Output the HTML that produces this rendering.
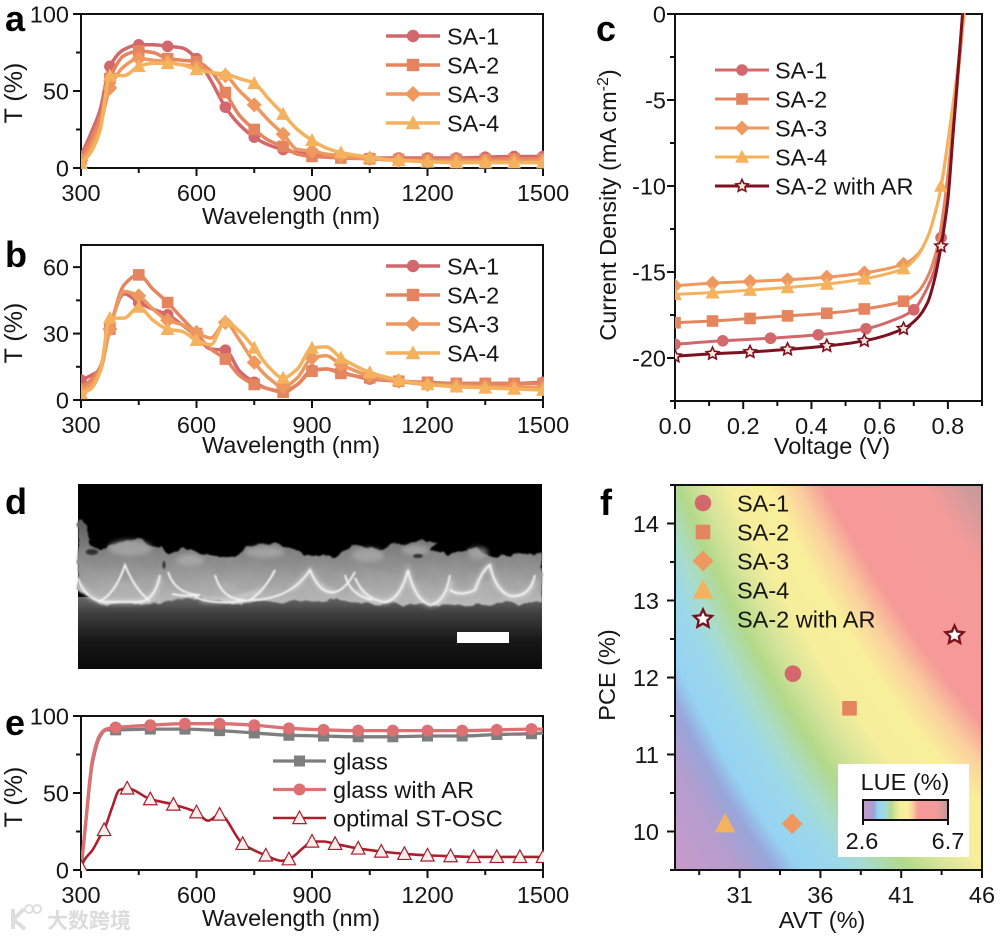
<!DOCTYPE html>
<html lang="en">
<head>
<meta charset="utf-8">
<title>Transmittance and device performance figure</title>
<style>
html,body{margin:0;padding:0;background:#fff;width:1000px;height:938px;overflow:hidden}
#stage{position:relative;width:1000px;height:938px}
#lue-canvas{position:absolute;left:675px;top:485px;width:307px;height:385px}
#figure{position:absolute;left:0;top:0}
text{font-family:"Liberation Sans","Noto Sans CJK SC",sans-serif;font-size:23.5px;fill:#161616}
.letter{font-size:36px;font-weight:bold;fill:#000}
</style>
</head>
<body>
<div id="stage">
<canvas id="lue-canvas" width="307" height="385"></canvas>
<svg id="figure" width="1000" height="938" viewBox="0 0 1000 938" xmlns="http://www.w3.org/2000/svg">
  <defs>
    <linearGradient id="sem-sub" x1="0" y1="0" x2="0" y2="1">
      <stop offset="0" stop-color="#686868"/><stop offset="0.22" stop-color="#404040"/><stop offset="0.6" stop-color="#181818"/><stop offset="1" stop-color="#0a0a0a"/>
    </linearGradient>
    <linearGradient id="sem-film" x1="0" y1="0" x2="0" y2="1">
      <stop offset="0" stop-color="#5c5c5c"/><stop offset="0.35" stop-color="#7e7e7e"/><stop offset="0.7" stop-color="#a0a0a0"/><stop offset="1" stop-color="#bcbcbc"/>
    </linearGradient>
    <filter id="rough" x="-5%" y="-30%" width="110%" height="160%">
      <feTurbulence type="fractalNoise" baseFrequency="0.07" numOctaves="3" seed="4" result="n"/>
      <feDisplacementMap in="SourceGraphic" in2="n" scale="9" xChannelSelector="R" yChannelSelector="G"/>
      <feGaussianBlur stdDeviation="0.9"/>
    </filter>
    <filter id="soft" x="-5%" y="-20%" width="110%" height="140%"><feGaussianBlur stdDeviation="0.9"/></filter>
    <filter id="softer" x="-5%" y="-20%" width="110%" height="140%"><feGaussianBlur stdDeviation="2.5"/></filter>
    <linearGradient id="colorbar-gradient" x1="0" y1="0" x2="1" y2="0"></linearGradient>
  </defs>

  <g>
    <rect x="78" y="484" width="464" height="185" fill="#000"/>
    <rect x="78" y="597" width="464" height="72" fill="url(#sem-sub)"/>
    <path filter="url(#rough)" fill="url(#sem-film)"
      d="M78 518L86 525L90 542L100 550L120 541L138 538L160 548L167 555L185 547L200 553L233 558L247 545L265 543L291 548L302 555L338 556L353 545L378 550L400 543L436 541L429 550L447 555L476 545L491 557L542 553L542 602L500 604L470 606L420 603L380 604L330 600L280 602L230 603L190 597L150 604L100 604L78 590Z"/>
    <g filter="url(#softer)" fill="#b2b2b2" opacity="0.65">
      <ellipse cx="130" cy="548" rx="22" ry="8"/><ellipse cx="190" cy="560" rx="14" ry="6"/><ellipse cx="265" cy="552" rx="20" ry="6"/>
      <ellipse cx="368" cy="555" rx="16" ry="7"/><ellipse cx="415" cy="550" rx="14" ry="5"/><ellipse cx="478" cy="553" rx="10" ry="6"/>
      <ellipse cx="125" cy="590" rx="16" ry="9"/><ellipse cx="310" cy="590" rx="14" ry="9"/><ellipse cx="410" cy="592" rx="12" ry="9"/>
      <ellipse cx="490" cy="588" rx="10" ry="8"/><ellipse cx="225" cy="590" rx="12" ry="7"/>
    </g>
    <g filter="url(#softer)" fill="none" stroke="#e8e8e8" stroke-width="4" opacity="0.6">
      <path d="M80 585Q88 600 105 602L140 602Q155 600 160 578"/>
      <path d="M200 600Q230 604 262 590M290 590Q300 585 310 570Q320 592 335 592"/>
      <path d="M358 590Q368 600 385 602Q400 600 408 572Q415 600 430 605Q445 603 452 580"/>
      <path d="M450 590Q460 597 475 590Q482 570 490 565Q495 590 510 596Q530 598 535 580"/>
    </g>
    <g filter="url(#soft)" fill="none" stroke="#f2f2f2" stroke-width="2">
      <path d="M78 578Q85 600 105 602L140 602Q155 600 160 575"/>
      <path d="M98 602Q115 595 125 565Q135 590 150 601"/>
      <path d="M168 572Q175 594 200 595Q188 597 172 594"/>
      <path d="M195 597Q215 606 250 600Q265 590 275 570"/>
      <path d="M215 575Q222 600 245 600"/>
      <path d="M250 600Q290 600 310 570Q320 595 335 592Q345 590 355 572"/>
      <path d="M355 578Q365 600 385 602Q400 600 408 570Q415 600 430 605Q445 603 450 575"/>
      <path d="M450 590Q460 597 475 590Q482 570 490 565Q495 590 510 596Q530 598 535 575"/>
      <path d="M345 575Q350 595 372 600"/>
    </g>
    <g filter="url(#soft)" fill="#111" opacity="0.7">
      <ellipse cx="92" cy="552" rx="6" ry="3"/><ellipse cx="164" cy="565" rx="1.5" ry="4"/><ellipse cx="418" cy="556" rx="5" ry="2"/>
    </g>
    <rect x="457" y="632" width="52" height="11" fill="#fff"/>
  </g>

  <g id="layer"></g>

  <text class="letter" x="5" y="31">a</text>
  <text class="letter" x="5" y="267">b</text>
  <text class="letter" x="596" y="41">c</text>
  <text class="letter" x="5" y="514">d</text>
  <text class="letter" x="5" y="735">e</text>
  <text class="letter" x="600" y="515">f</text>

  <text x="291" y="224" text-anchor="middle">Wavelength (nm)</text>
  <text x="291" y="453" text-anchor="middle">Wavelength (nm)</text>
  <text x="291" y="926" text-anchor="middle">Wavelength (nm)</text>
  <text x="832" y="454" text-anchor="middle">Voltage (V)</text>
  <text x="822" y="928" text-anchor="middle">AVT (%)</text>
  <text transform="translate(22,93) rotate(-90)" text-anchor="middle" style="font-size:25px">T (%)</text>
  <text transform="translate(22,333) rotate(-90)" text-anchor="middle" style="font-size:25px">T (%)</text>
  <text transform="translate(22,797) rotate(-90)" text-anchor="middle" style="font-size:25px">T (%)</text>
  <text transform="translate(616,205) rotate(-90)" text-anchor="middle">Current Density (mA cm<tspan dy="-8" font-size="16">-2</tspan><tspan dy="8">)</tspan></text>
  <text transform="translate(615,675) rotate(-90)" text-anchor="middle">PCE (%)</text>

  <g>
    <rect x="838" y="764" width="131" height="93" fill="#fff"/>
    <text x="905" y="790" text-anchor="middle">LUE (%)</text>
    <rect x="863" y="800" width="85" height="20" fill="url(#colorbar-gradient)" stroke="#111" stroke-width="2"/>
    <path d="M863 820V825M948 820V825" stroke="#111" stroke-width="2"/>
    <text x="862" y="849" text-anchor="middle">2.6</text>
    <text x="948" y="849" text-anchor="middle">6.7</text>
  </g>

  <g opacity="0.8">
    <path d="M13 909V929M13 920L24 909M14 920L25 929" fill="none" stroke="#d6d6d6" stroke-width="4"/>
    <circle cx="29" cy="909" r="4" fill="none" stroke="#d6d6d6" stroke-width="2"/>
    <circle cx="37" cy="909" r="4" fill="none" stroke="#d6d6d6" stroke-width="2"/>
    <text x="47" y="928" style="font-size:21px;font-weight:bold;fill:#d4d4d4">大数跨境</text>
  </g>
</svg>
</div>
<script>
// ---------- data: panel a ----------
const waveGrid = [300,325,350,375,412,450,487,525,562,600,637,675,712,750,787,825,862,900,937,975,1050,1125,1200,1275,1350,1425,1500];
const every75 = [300,375,450,525,600,675,750,825,900,975,1050,1125,1200,1275,1350,1425,1500];
const a1 = [8,22,38,66,77,80,80,79,78,71,57,39.5,28,20,15,12,10,9,8,7,6.5,6.5,6.5,6.5,7,7.5,7.5];
const a2 = [6,18,33,58,73,76,75,71,70,69,63,49,34,25,18,14,9,7.5,7,6.5,6,5.5,5.5,5.5,5.5,6,6];
const a3 = [5,13,28,52,66,71,70,69,67,66,62,60,50,41,31,22,12,11,9,8,6,5,4.5,4.5,4.5,4.5,4.5];
const a4 = [3,10,25,60,60,66,68,68,67,64,62,61,58,55,45,35,25,18,13,10,7,5,4,3.5,3.5,3.5,3.5];
// ---------- data: panel b ----------
const b1 = [9,11,14,33,48,44,41,38.5,34,29,23,22.5,13,8,5,4,7,13.5,14,12.5,9.5,8.5,7.5,7.5,7.5,7.5,8];
const b2 = [5,9,15,32,52,56.5,50,44,37,30,23,18.5,11,7,5,3.5,7,13,14,12,10,8.5,8,7.5,7.5,7.5,7.5];
const b3 = [4,7,13,32,49,47,41,36,34,30.5,28,35,27,17,10,6,10,19,20,16,11,8.5,7,6.5,6,6,5.5];
const b4 = [3,5,13,37,37,42,36,32,31,27,25,35.5,31,23.5,15,10,14,23.5,24,19,12.5,9,7,6,5.5,5,4.5];
// ---------- data: panel c ----------
const c1V = [0,.14,.28,.42,.56,.64,.70,.73,.76,.78,.80,.815,.825,.835,.845];
const c1J = [-19.2,-19,-18.85,-18.65,-18.3,-17.8,-17.2,-16.3,-14.9,-13,-10.5,-7,-4.7,-2.2,.5];
const c2V = [0,.11,.22,.33,.445,.555,.67,.71,.74,.77,.79,.81,.825,.84,.85];
const c2J = [-17.95,-17.85,-17.7,-17.55,-17.4,-17.15,-16.7,-16.2,-15.3,-13.5,-11,-7.5,-4.5,-1.5,.5];
const c3V = [0,.11,.22,.33,.445,.555,.67,.71,.74,.77,.785,.81,.83,.85];
const c3J = [-15.8,-15.65,-15.55,-15.45,-15.3,-15.05,-14.55,-14,-13,-11,-9.5,-6,-3,.5];
const c4V = [0,.11,.22,.33,.445,.555,.67,.71,.74,.77,.78,.81,.83,.85];
const c4J = [-16.3,-16.2,-16.05,-15.9,-15.7,-15.4,-14.8,-14.1,-13,-11,-10,-6,-3,.5];
const c5V = [0,.11,.22,.33,.445,.555,.67,.71,.74,.76,.78,.80,.815,.825,.835,.845];
const c5J = [-19.9,-19.75,-19.65,-19.5,-19.3,-19,-18.3,-17.7,-16.8,-15.5,-13.5,-10.8,-7,-4.5,-2,.5];
const c1Marks = [0,.14,.28,.42,.56,.70,.78];
const cShortMarks = [0,.11,.22,.33,.445,.555,.67];
const cMarks = [0,.11,.22,.33,.445,.555,.67,.78];
// ---------- data: panel e ----------
const eGlassW = [300,310,330,350,365,390,480,570,660,750,840,930,1020,1110,1200,1290,1380,1470,1500];
const eGlassT = [0,25,70,87,91,91,91.5,91.5,90.5,89,87.5,87,86.5,86.5,87,87,88,88.5,89];
const eArT = [0,25,72,88,91.5,92.5,94,95,95,94,92,91,90.5,90.5,90.5,90.5,91,91.5,91.5];
const eGlassMarks = [390,480,570,660,750,840,930,1020,1110,1200,1290,1380,1470];
const eStW = [300,310,330,350,360,380,400,420,480,540,600,630,660,720,780,820,840,880,900,930,960,1020,1080,1140,1200,1260,1320,1380,1440,1500];
const eStT = [2,7,13,22,26,40,52,53,46,42.5,37.5,32,36,17,9.5,6,7,15,18.5,18.5,17,14,12,10.5,9.5,9,8.5,8.5,8.5,8.5];
const eStMarks = [300,360,420,480,540,600,660,720,780,840,900,960,1020,1080,1140,1200,1260,1320,1380,1440,1500];
// ---------- data: panel f ----------
const fAvt = [34.3,37.8,34.25,30.1,44.3];
const fPce = [12.05,11.6,10.1,10.1,12.55];
const lueLevels = [2.6,2.95,3.15,3.3,3.55,3.72,3.95,4.15,4.4,4.75,5.0,5.25,6.15,6.7];
const lueColors = ['#c79bc9','#b49dcf','#98a6da','#96d3f3','#9bd8ea','#a9dccd','#b3d98a','#d5e49a','#f6ee9b','#f9ef9b','#fbcf9e','#f59a98','#f49b9a','#bd9b9b'];
// ---------- tick labels ----------
const waveTicks = [300,600,900,1200,1500];
const waveMinor = [450,750,1050,1350];
const pctTicks = [0,50,100];
const pctMinor = [25,75];
const bTicks = [0,30,60];
const bMinor = [15,45];
const voltTicks = ['0.0','0.2','0.4','0.6','0.8'];
const voltMinor = [.1,.3,.5,.7,.9];
const jTicks = [0,-5,-10,-15,-20];
const jMinor = [-2.5,-7.5,-12.5,-17.5,-22.5];
const avtTicks = [31,36,41,46];
const avtMinor = [28.5,33.5,38.5,43.5];
const pceTicks = [10,11,12,13,14];
const pceMinor = [9.5,10.5,11.5,12.5,13.5,14.5];
const saNames = ['SA-1','SA-2','SA-3','SA-4','SA-2 with AR'];
const eNames = ['glass','glass with AR','optimal ST-OSC'];

// ---------- colours ----------
const COL = ['#d2686b','#e5855f','#ee985f','#f4b25f','#7c1220'];
const NS = 'http://www.w3.org/2000/svg';
const layer = document.getElementById('layer');
const SHAPES = ['circle','square','diamond','triangle','star'];

function el(tag, parent, props){
  const e = document.createElementNS(NS, tag);
  for(const k in props) e.setAttribute(k, props[k]);
  parent.appendChild(e);
  return e;
}
function scales(p){
  return {
    x: v => p.l + (v - p.xMin) / (p.xMax - p.xMin) * (p.r - p.l),
    y: v => p.b - (v - p.yMin) / (p.yMax - p.yMin) * (p.b - p.t)
  };
}
// monotone cubic path through the points
function curve(xs, ys){
  const n = xs.length, d = [], m = [];
  for(let i = 0; i < n - 1; i++) d[i] = (ys[i+1] - ys[i]) / (xs[i+1] - xs[i]);
  m[0] = d[0]; m[n-1] = d[n-2];
  for(let i = 1; i < n - 1; i++){
    m[i] = d[i-1] * d[i] <= 0 ? 0 : 2 * d[i-1] * d[i] / (d[i-1] + d[i]);
  }
  let s = 'M' + xs[0].toFixed(2) + ' ' + ys[0].toFixed(2);
  for(let i = 0; i < n - 1; i++){
    const h = (xs[i+1] - xs[i]) / 3;
    s += 'C' + (xs[i] + h).toFixed(2) + ' ' + (ys[i] + m[i] * h).toFixed(2) + ' ' +
         (xs[i+1] - h).toFixed(2) + ' ' + (ys[i+1] - m[i+1] * h).toFixed(2) + ' ' +
         xs[i+1].toFixed(2) + ' ' + ys[i+1].toFixed(2);
  }
  return s;
}
function lerp(xs, ys, v){
  for(let i = 0; i < xs.length - 1; i++){
    if(v >= xs[i] && v <= xs[i+1]) return ys[i] + (ys[i+1] - ys[i]) * (v - xs[i]) / (xs[i+1] - xs[i]);
  }
  return ys[ys.length - 1];
}
function marker(parent, shape, cx, cy, s, fill, stroke, sw){
  let m;
  const st = {fill: fill, stroke: stroke || 'none', 'stroke-width': sw || 0};
  if(shape === 'circle'){
    m = el('circle', parent, Object.assign({cx: cx, cy: cy, r: s}, st));
  } else if(shape === 'square'){
    m = el('rect', parent, Object.assign({x: cx - s, y: cy - s, width: 2 * s, height: 2 * s}, st));
  } else {
    let pts = [];
    if(shape === 'diamond') pts = [[0,-1.3*s],[1.3*s,0],[0,1.3*s],[-1.3*s,0]];
    if(shape === 'triangle') pts = [[0,-1.25*s],[1.2*s,s],[-1.2*s,s]];
    if(shape === 'star'){
      for(let i = 0; i < 10; i++){
        const r = i % 2 ? s * 0.48 : s;
        const a = -Math.PI / 2 + i * Math.PI / 5;
        pts.push([r * Math.cos(a), r * Math.sin(a)]);
      }
    }
    m = el('polygon', parent, Object.assign({points: pts.map(q => (cx + q[0]).toFixed(2) + ',' + (cy + q[1]).toFixed(2)).join(' ')}, st));
  }
  return m;
}
function tickLine(parent, x1, y1, x2, y2, name){
  const t = el('line', parent, {x1: x1, y1: y1, x2: x2, y2: y2, stroke: '#111', 'stroke-width': 2});
  
  
}
function label(parent, x, y, txt, anchor, name){
  const t = el('text', parent, {x: x, y: y, 'text-anchor': anchor});
  t.textContent = txt;
  
  
}
function axes(id, p, xT, xTLab, xM, yT, yM, yLabelX){
  const s = scales(p);
  const g = el('g', layer, {});
  
  
  const frame = el('rect', g, {x: p.l, y: p.t, width: p.r - p.l, height: p.b - p.t, fill: 'none', stroke: '#111', 'stroke-width': 2});
  
  
  xT.forEach((v, i) => {
    tickLine(g, s.x(v), p.b, s.x(v), p.b + 8, id + '-x-tick');
    label(g, s.x(v), p.b + p.xLabOff, xTLab[i], 'middle', id + '-x-tick-label');
  });
  xM.forEach(v => tickLine(g, s.x(v), p.b, s.x(v), p.b + 5, id + '-x-minor-tick'));
  yT.forEach(v => {
    tickLine(g, p.l - 8, s.y(v), p.l, s.y(v), id + '-y-tick');
    label(g, yLabelX, s.y(v) + 8.5, String(v), 'end', id + '-y-tick-label');
  });
  yM.forEach(v => tickLine(g, p.l - 5, s.y(v), p.l, s.y(v), id + '-y-minor-tick'));
  return s;
}
let clipCount = 0;
function clipFor(p){
  clipCount++;
  const defs = document.querySelector('defs');
  const c = el('clipPath', defs, {id: 'clip' + clipCount});
  el('rect', c, {x: p.l, y: p.t - 1, width: p.r - p.l + 1, height: p.b - p.t + 2});
  return 'url(#clip' + clipCount + ')';
}
function series(id, name, s, clip, xs, ys, marks, o){
  const g = el('g', layer, {'clip-path': clip});
  
  
  const line = el('path', g, {d: curve(xs.map(s.x), ys.map(s.y)), fill: 'none', stroke: o.color, 'stroke-width': o.width, 'stroke-linejoin': 'round'});
  
  
  marks.forEach(v => {
    const m = marker(g, o.shape, s.x(v), s.y(lerp(xs, ys, v)), o.size, o.fill, o.stroke, o.sw);
    
    
  });
}
function legendRow(id, x0, x1, textX, y, name, o){
  const g = el('g', layer, {});
  
  
  const line = el('line', g, {x1: x0, x2: x1, y1: y, y2: y, stroke: o.color, 'stroke-width': o.width});
  
  
  const m = marker(g, o.shape, (x0 + x1) / 2, y, o.size, o.fill, o.stroke, o.sw);
  
  
  label(g, textX, y + 8.5, name, 'start', id + '-legend-label');
}
function saStyle(i, width, size){
  return {color: COL[i], fill: COL[i], shape: SHAPES[i], size: size, width: width};
}
function spectra(id, p, yT, yM, rows, legendY){
  const s = axes(id, p, waveTicks, waveTicks.map(String), waveMinor, yT, yM, 69);
  const clip = clipFor(p);
  rows.forEach((r, i) => series(id, saNames[i].toLowerCase(), s, clip, waveGrid, r, every75, saStyle(i, 3.5, 5.8)));
  rows.forEach((r, i) => legendRow(id, 386, 440, 447, legendY + i * 29, saNames[i], saStyle(i, 3.5, 6.2)));
}

// panel a
spectra('panel-a', {l:81,r:543,t:14,b:168,xMin:300,xMax:1500,yMin:0,yMax:100,xLabOff:33}, pctTicks, pctMinor, [a1,a2,a3,a4], 36);
// panel b
spectra('panel-b', {l:81,r:543,t:245,b:400,xMin:300,xMax:1500,yMin:0,yMax:70,xLabOff:33}, bTicks, bMinor, [b1,b2,b3,b4], 266);

// panel c
(function(){
  const p = {l:675,r:982,t:14,b:401,xMin:0,xMax:.9,yMin:-22.5,yMax:0,xLabOff:33};
  const s = axes('panel-c', p, voltTicks.map(Number), voltTicks, voltMinor, jTicks, jMinor, 666);
  const clip = clipFor(p);
  const vs = [c1V,c2V,c3V,c4V,c5V], js = [c1J,c2J,c3J,c4J,c5J];
  const markSets = [c1Marks,cShortMarks,cShortMarks,cMarks,cMarks];
  const style = i => i === 4
    ? {color: COL[4], fill: '#fde6da', stroke: COL[4], sw: 1.6, shape: 'star', size: 6.5, width: 3}
    : saStyle(i, 3, 5.8);
  [0,1,2,3,4].forEach(i => series('panel-c', saNames[i].toLowerCase().replace(/ /g,'-'), s, clip, vs[i], js[i], markSets[i], style(i)));
  saNames.forEach((n, i) => legendRow('panel-c', 715, 769, 775, 70 + i * 29, n, style(i)));
})();

// panel e
(function(){
  const p = {l:81,r:543,t:716,b:870,xMin:300,xMax:1500,yMin:0,yMax:100,xLabOff:33};
  const s = axes('panel-e', p, waveTicks, waveTicks.map(String), waveMinor, pctTicks, pctMinor, 69);
  const clip = clipFor(p);
  const st = [
    {color:'#7e7e7e', fill:'#7e7e7e', shape:'square', size:5.5, width:3.3},
    {color:'#dc7072', fill:'#dc7072', shape:'circle', size:6, width:3.3},
    {color:'#ac1f2d', fill:'#fdeeee', stroke:'#a51f2d', sw:1.2, shape:'triangle', size:5.6, width:2.6}
  ];
  series('panel-e', 'glass', s, clip, eGlassW, eGlassT, eGlassMarks, st[0]);
  series('panel-e', 'glass-with-ar', s, clip, eGlassW, eArT, eGlassMarks, st[1]);
  series('panel-e', 'optimal-st-osc', s, clip, eStW, eStT, eStMarks, st[2]);
  eNames.forEach((n, i) => legendRow('panel-e', 273, 326, 333, 761 + i * 28.5, n, st[i]));
})();

// panel f
(function(){
  const p = {l:675,r:982,t:485,b:870,xMin:27,xMax:46,yMin:9.5,yMax:14.5,xLabOff:33};
  const hex = c => [1,3,5].map(i => parseInt(c.substr(i,2),16));
  const rgb = lueColors.map(hex);
  const ctx = document.getElementById('lue-canvas').getContext('2d');
  const img = ctx.createImageData(307, 385);
  for(let j = 0; j < 385; j++){
    for(let i = 0; i < 307; i++){
      const avt = p.xMin + (i + .5) / 307 * (p.xMax - p.xMin);
      const pce = p.yMax - (j + .5) / 385 * (p.yMax - p.yMin);
      const lue = Math.min(6.7, Math.max(2.6, avt * pce / 100));
      let k = 0;
      while(k < lueLevels.length - 2 && lue > lueLevels[k+1]) k++;
      const f = (lue - lueLevels[k]) / (lueLevels[k+1] - lueLevels[k]);
      const o = (j * 307 + i) * 4;
      for(let c = 0; c < 3; c++) img.data[o + c] = rgb[k][c] + (rgb[k+1][c] - rgb[k][c]) * f;
      img.data[o + 3] = 255;
    }
  }
  ctx.putImageData(img, 0, 0);

  const grad = document.getElementById('colorbar-gradient');
  lueLevels.forEach((l, i) => {
    el('stop', grad, {offset: (l - 2.6) / 4.1, 'stop-color': lueColors[i]});
  });

  const s = axes('panel-f', p, avtTicks, avtTicks.map(String), avtMinor, pceTicks, pceMinor, 659);
  const style = [
    {shape:'circle', size:8.3, fill:COL[0]},
    {shape:'square', size:7.3, fill:COL[1]},
    {shape:'diamond', size:8, fill:COL[2]},
    {shape:'triangle', size:8.6, fill:COL[3]},
    {shape:'star', size:9.5, fill:'#fff', stroke:COL[4], sw:2.4}
  ];
  const g = el('g', layer, {});
  
  
  fAvt.forEach((a, i) => {
    const st = style[i];
    const m = marker(g, st.shape, s.x(a), s.y(fPce[i]), st.size, st.fill, st.stroke, st.sw);
    
    
  });
  saNames.forEach((n, i) => {
    const st = style[i];
    const y = 503 + i * 29;
    const m = marker(layer, st.shape, 703, y, st.size, st.fill, st.stroke, st.sw);
    
    
    label(layer, 737, y + 8.5, n, 'start', 'panel-f-legend-label');
  });
})();
</script>
</body>
</html>
